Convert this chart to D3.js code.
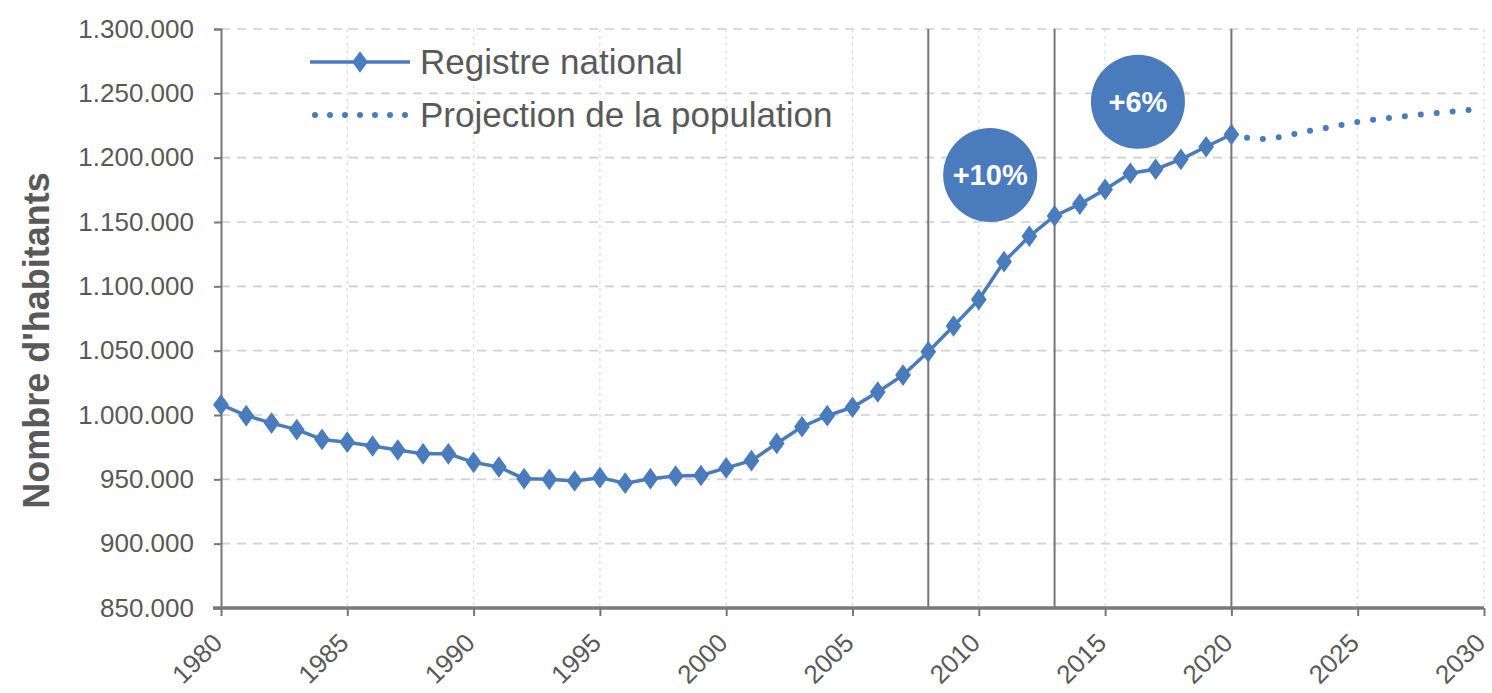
<!DOCTYPE html>
<html>
<head>
<meta charset="utf-8">
<script src="https://cdn.jsdelivr.net/npm/d3@7"></script>
<style>
  body { margin: 0; background: #fff; }
  text { font-family: "Liberation Sans", Arial, sans-serif; }
</style>
</head>
<body>
<div id="chart"></div>
<script>
const width = 1492;
const height = 693;
const marginTop = 29;
const marginRight = 8;
const marginBottom = 85;
const marginLeft = 221;

// Registre national (1980-2020)
const registreYears = [1980, 1981, 1982, 1983, 1984, 1985, 1986, 1987, 1988, 1989,
  1990, 1991, 1992, 1993, 1994, 1995, 1996, 1997, 1998, 1999,
  2000, 2001, 2002, 2003, 2004, 2005, 2006, 2007, 2008, 2009,
  2010, 2011, 2012, 2013, 2014, 2015, 2016, 2017, 2018, 2019, 2020];
const registreValues = [1008000, 999500, 993700, 988600, 981000, 978900, 975900, 972800, 969800, 969800,
  963200, 959600, 950500, 950000, 948700, 951300, 947000, 950500, 952500, 953000,
  958900, 964500, 977900, 990900, 999500, 1006000, 1017900, 1031000, 1049200, 1069200,
  1089700, 1119200, 1138900, 1154700, 1163900, 1175300, 1187900, 1191000, 1198700, 1208500, 1218000];

// Projection de la population (2020-2030)
const projectionYears = [2020, 2021, 2022, 2023, 2024, 2025, 2026, 2027, 2028, 2029, 2030];
const projectionValues = [1218000, 1213900, 1216200, 1220600, 1223900, 1227800, 1230400, 1232500, 1234500, 1236300, 1238100];

const yTicks = [850000, 900000, 950000, 1000000, 1050000, 1100000, 1150000, 1200000, 1250000, 1300000];
const xTicks = [1980, 1985, 1990, 1995, 2000, 2005, 2010, 2015, 2020, 2025, 2030];
const markerYears = [2008, 2013, 2020];
const bubbleLabels = ["+10%", "+6%"];
const bubbleYears = [2010.45, 2016.3];
const bubbleValues = [1186500, 1243400];
const legendLabels = ["Registre national", "Projection de la population"];
const yTitle = "Nombre d'habitants";

const blue = "#4a7bbd";
const textColor = "#595959";

const registre = registreYears.map((d, i) => ({ year: d, value: registreValues[i] }));
const projection = projectionYears.map((d, i) => ({ year: d, value: projectionValues[i] }));

const innerW = width - marginLeft - marginRight;
const innerH = height - marginTop - marginBottom;

const x = d3.scaleLinear()
    .domain([1980, 2030])
    .range([0, innerW]);
const y = d3.scaleLinear()
    .domain([850000, 1300000])
    .range([innerH, 0]);

const fmt = d3.formatLocale({ decimal: ",", thousands: ".", grouping: [3], currency: ["", ""] }).format(",d");

const svg = d3.select("#chart")
  .append("svg")
    .attr("width", width)
    .attr("height", height)
  .append("g")
    .attr("transform", `translate(${marginLeft},${marginTop})`);

// grid
svg.append("g")
  .selectAll("line")
  .data(xTicks.slice(1))
  .join("line")
    .attr("x1", d => x(d)).attr("x2", d => x(d))
    .attr("y1", 0).attr("y2", innerH)
    .attr("stroke", "#dcdcdc")
    .attr("stroke-width", 1.2)
    .attr("stroke-dasharray", "3,4");

svg.append("g")
  .selectAll("line")
  .data(yTicks.slice(1))
  .join("line")
    .attr("x1", 0).attr("x2", innerW)
    .attr("y1", d => y(d)).attr("y2", d => y(d))
    .attr("stroke", "#d0d0d0")
    .attr("stroke-width", 1.6)
    .attr("stroke-dasharray", "9,7");

// vertical markers
svg.append("g")
  .selectAll("line")
  .data(markerYears)
  .join("line")
    .attr("x1", d => x(d)).attr("x2", d => x(d))
    .attr("y1", 0).attr("y2", innerH)
    .attr("stroke", "#777")
    .attr("stroke-width", 2);

// y axis
const yAxis = svg.append("g")
    .call(d3.axisLeft(y).tickValues(yTicks).tickFormat(fmt).tickSize(7).tickPadding(20));
yAxis.select(".domain").attr("stroke", "#777").attr("stroke-width", 2);
yAxis.selectAll(".tick line").attr("stroke", "#777").attr("stroke-width", 2);
yAxis.selectAll("text")
    .attr("font-size", 26)
    .attr("fill", textColor);

// x axis
const xAxis = svg.append("g")
    .attr("transform", `translate(0,${innerH})`)
    .call(d3.axisBottom(x).tickValues(xTicks).tickFormat(d3.format("d")).tickSize(8).tickSizeOuter(0));
xAxis.select(".domain").attr("stroke", "#7a7a7a").attr("stroke-width", 3.5)
    .attr("d", `M-8,0H${innerW}`);
xAxis.selectAll(".tick line").attr("stroke", "#777").attr("stroke-width", 2);
xAxis.selectAll("text")
    .attr("font-size", 26)
    .attr("fill", textColor)
    .attr("text-anchor", "end")
    .attr("x", 0)
    .attr("y", 0)
    .attr("dy", "0.35em")
    .attr("transform", "translate(-4,30) rotate(-45)");

// y title
svg.append("text")
    .attr("transform", `translate(${-marginLeft + 49},${innerH / 2 + 22}) rotate(-90)`)
    .attr("text-anchor", "middle")
    .attr("font-size", 36)
    .attr("font-weight", "bold")
    .attr("fill", textColor)
    .text(yTitle);

// lines
const line = d3.line()
    .x(d => x(d.year))
    .y(d => y(d.value));

svg.append("path")
    .datum(projection)
    .attr("fill", "none")
    .attr("stroke", blue)
    .attr("stroke-width", 6)
    .attr("stroke-linecap", "round")
    .attr("stroke-dasharray", "0,16")
    .attr("d", line);

svg.append("path")
    .datum(registre)
    .attr("fill", "none")
    .attr("stroke", blue)
    .attr("stroke-width", 3.5)
    .attr("d", line);

const diamond = d3.symbol().type(d3.symbolDiamond).size(150);
svg.append("g")
  .selectAll("path")
  .data(registre)
  .join("path")
    .attr("transform", d => `translate(${x(d.year)},${y(d.value)}) scale(1.2,0.95)`)
    .attr("d", diamond)
    .attr("fill", blue);

// bubbles
const bubbles = svg.append("g")
  .selectAll("g")
  .data(bubbleLabels)
  .join("g")
    .attr("transform", (d, i) => `translate(${x(bubbleYears[i])},${y(bubbleValues[i])})`);
bubbles.append("circle")
    .attr("r", 47)
    .attr("fill", blue);
bubbles.append("text")
    .attr("text-anchor", "middle")
    .attr("dy", "0.35em")
    .attr("font-size", 29)
    .attr("font-weight", "bold")
    .attr("fill", "#fff")
    .text(d => d);

// legend
const legend = svg.append("g")
    .attr("transform", `translate(${310 - marginLeft},${62 - marginTop})`);
legend.append("line")
    .attr("x1", 0).attr("x2", 100)
    .attr("stroke", blue).attr("stroke-width", 3.5);
legend.append("path")
    .attr("transform", "translate(50,0) scale(1.2,0.95)")
    .attr("d", diamond)
    .attr("fill", blue);
legend.append("line")
    .attr("x1", 5).attr("x2", 96)
    .attr("y1", 53).attr("y2", 53)
    .attr("stroke", blue).attr("stroke-width", 6)
    .attr("stroke-linecap", "round")
    .attr("stroke-dasharray", "0,15");
legend.selectAll("text")
  .data(legendLabels)
  .join("text")
    .attr("x", 110)
    .attr("y", (d, i) => i * 53)
    .attr("dy", "0.35em")
    .attr("font-size", 35)
    .attr("fill", textColor)
    .text(d => d);
</script>
</body>
</html>
